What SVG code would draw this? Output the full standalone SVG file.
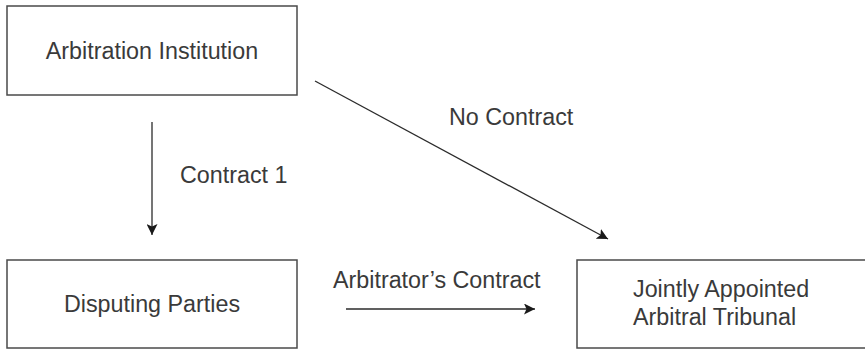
<svg xmlns="http://www.w3.org/2000/svg" width="865" height="349" viewBox="0 0 865 349">
<defs>
<style>
.box{fill:#fff;stroke:#4a4a4a;stroke-width:1.5}
.lbl{font-family:"Liberation Sans",Arial,sans-serif;font-size:23.3px;fill:#3a3a3a}
.edge{stroke:#2b2b2b;stroke-width:1.3;fill:none}
</style>
<marker id="arr" viewBox="0 0 11 11" refX="11" refY="5.5" markerWidth="11" markerHeight="11" markerUnits="userSpaceOnUse" orient="auto">
<path d="M0,0 L11,5.5 L0,11 L2.5,5.5 Z" fill="#1a1a1a"/>
</marker>
</defs>
<rect width="865" height="349" fill="#fff"/>
<g id="node-institution">
<rect class="box" x="7" y="6" width="290" height="89"/>
<text class="lbl" x="152" y="59" text-anchor="middle">Arbitration Institution</text>
</g>
<g id="node-parties">
<rect class="box" x="7" y="260" width="290" height="88"/>
<text class="lbl" x="152" y="312" text-anchor="middle">Disputing Parties</text>
</g>
<g id="node-tribunal">
<rect class="box" x="577" y="260" width="300" height="88"/>
<text class="lbl" x="633" y="297">Jointly Appointed</text>
<text class="lbl" x="633" y="325">Arbitral Tribunal</text>
</g>
<g id="connectors">
<line class="edge" x1="152" y1="122" x2="152" y2="235" marker-end="url(#arr)"/>
<text class="lbl" x="180" y="183">Contract 1</text>
<line class="edge" x1="315" y1="81" x2="608" y2="239" marker-end="url(#arr)"/>
<text class="lbl" x="449" y="125">No Contract</text>
<line class="edge" x1="346" y1="309" x2="535" y2="309" marker-end="url(#arr)"/>
<text class="lbl" x="333" y="288">Arbitrator’s Contract</text>
</g>
</svg>
